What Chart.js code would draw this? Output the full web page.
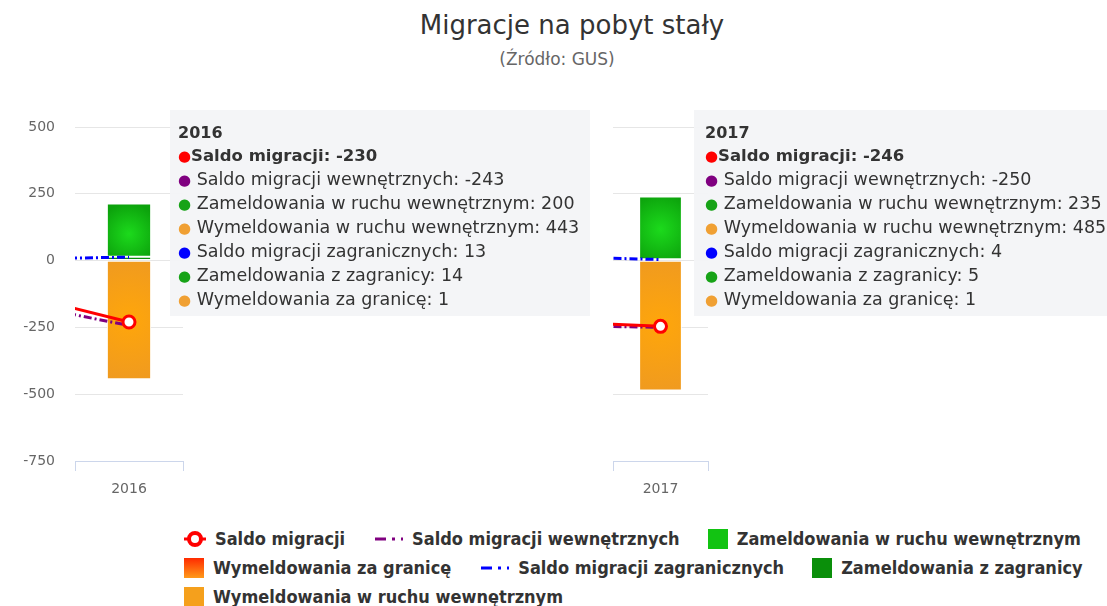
<!DOCTYPE html>
<html lang="pl">
<head>
<meta charset="utf-8">
<title>Migracje na pobyt stały</title>
<script src="https://cdn.jsdelivr.net/npm/chart.js@4.4.1/dist/chart.umd.min.js"></script>
<style>
  html, body { margin: 0; padding: 0; background: #fff; }
  body { width: 1107px; height: 606px; position: relative; overflow: hidden; font-family: 'DejaVu Sans', sans-serif; }
  #tytul { position: absolute; top: 10px; left: 572px; transform: translateX(-50%); font-size: 26px; color: #333; white-space: nowrap; }
  #podtytul { position: absolute; top: 49px; left: 557px; transform: translateX(-50%); font-size: 17px; color: #666; white-space: nowrap; }
  .wykres { position: absolute; top: 110px; }
  #wykres2016 { left: 0; }
  #wykres2017 { left: 590px; }
  .dymek { position: absolute; top: 110px; height: 206px; background: rgba(244, 245, 247, 0.96); color: #333; font-size: 17.5px; line-height: 23px; padding: 11px 0 0 8px; box-sizing: border-box; white-space: nowrap; overflow: hidden; z-index: 5; }
  #dymek2016 { left: 170px; width: 420px; }
  #dymek2017 { left: 694px; width: 413px; padding-left: 11px; }
  .dymek b.rok { font-size: 16px; }
  .dymek b.saldo { font-size: 16.5px; }
  .dymek .kropka { font-size: 15px; }
  #legenda { position: absolute; left: 184px; top: 527px; width: 915px; display: flex; flex-wrap: wrap; row-gap: 6px; column-gap: 28px; font-family: 'DejaVu Sans', sans-serif; font-stretch: condensed; font-weight: bold; font-size: 18px; color: #333; z-index: 6; }
  .poz { display: flex; align-items: center; height: 23px; white-space: nowrap; }
  .poz .znak { display: inline-block; margin-right: 9px; }
</style>
</head>
<body>
<div id="tytul">Migracje na pobyt stały</div>
<div id="podtytul">(Źródło: GUS)</div>

<canvas id="wykres2016" class="wykres" width="200" height="400"></canvas>
<canvas id="wykres2017" class="wykres" width="130" height="400"></canvas>

<div id="dymek2016" class="dymek"></div>
<div id="dymek2017" class="dymek"></div>

<div id="legenda"></div>

<script>
// dane (2015 - szacunek z widocznego fragmentu linii)
const lata = ['2015', '2016', '2017'];
const saldoMigracji = [-128, -230, -246];
const saldoWewnetrzne = [-163, -243, -250];
const zameldowaniaWewn = [null, 200, 235];
const wymeldowaniaWewn = [null, 443, 485];
const saldoZagraniczne = [6, 13, 4];
const zameldowaniaZagr = [null, 14, 5];
const wymeldowaniaZagr = [null, 1, 1];
const osY = [-750, -500, -250, 0, 250, 500];

const kolory = {
    saldo: '#ff0000',
    saldoWewn: '#800080',
    saldoZagr: '#0000ff',
    zamWewn: '#12c312',
    zamZagr: '#0a8f0a',
    wymWewn: '#f5a01c',
    wymZagr: '#ff4d12'
};

const ujemne = arr => arr.map(v => v == null ? null : -v);

// promieniste wypełnienie słupka (jaśniejszy środek)
function gradient(srodek, brzeg) {
    return c => {
        const chart = c.chart;
        if (!chart.chartArea || c.dataIndex == null) return brzeg;
        const v = c.dataset.data[c.dataIndex];
        if (v == null) return brzeg;
        const x = chart.scales.x.getPixelForValue(c.dataIndex);
        const y0 = chart.scales.y.getPixelForValue(0);
        const y1 = chart.scales.y.getPixelForValue(v);
        const cy = (y0 + y1) / 2;
        const r = Math.max(Math.abs(y1 - y0) / 2, 22) * 1.15;
        const g = chart.ctx.createRadialGradient(x, cy, 0, x, cy, r);
        g.addColorStop(0, srodek);
        g.addColorStop(1, brzeg);
        return g;
    };
}

function zbiory() {
    return [
        {
            type: 'line', label: 'Saldo migracji', data: saldoMigracji, stack: 's1', order: 0,
            borderColor: kolory.saldo, borderWidth: 3, tension: 0,
            pointRadius: 6, pointBorderWidth: 3, pointBackgroundColor: '#fff', pointBorderColor: kolory.saldo
        },
        {
            type: 'line', label: 'Saldo migracji wewnętrznych', data: saldoWewnetrzne, stack: 's2', order: 0,
            borderColor: kolory.saldoWewn, borderWidth: 3, borderDash: [8, 3, 2, 3], tension: 0, pointRadius: 0
        },
        {
            type: 'line', label: 'Saldo migracji zagranicznych', data: saldoZagraniczne, stack: 's3', order: 0,
            borderColor: kolory.saldoZagr, borderWidth: 3, borderDash: [8, 3, 2, 3], tension: 0, pointRadius: 0
        },
        { label: 'Zameldowania z zagranicy', data: zameldowaniaZagr, stack: 'slupki', order: 1, backgroundColor: kolory.zamZagr },
        { label: 'Zameldowania w ruchu wewnętrznym', data: zameldowaniaWewn, stack: 'slupki', order: 1, backgroundColor: gradient('#1cda1c', '#0ca20c') },
        { label: 'Wymeldowania za granicę', data: ujemne(wymeldowaniaZagr), stack: 'slupki', order: 1, backgroundColor: kolory.wymZagr },
        { label: 'Wymeldowania w ruchu wewnętrznym', data: ujemne(wymeldowaniaWewn), stack: 'slupki', order: 1, backgroundColor: gradient('#ffa60a', '#ee9922') }
    ];
}

function rysuj(id, rok, opcje) {
    const ctx = document.getElementById(id).getContext('2d');
    const ds = zbiory().map(d => d.type === 'line' ? d : Object.assign(d, {
        borderColor: '#fff', borderWidth: 1, borderSkipped: false,
        barPercentage: opcje.szerokosc, categoryPercentage: 1
    }));
    return new Chart(ctx, {
        type: 'bar',
        data: { labels: lata, datasets: ds },
        options: {
            responsive: false,
            animation: false,
            events: [],
            layout: { padding: opcje.padding },
            plugins: { legend: { display: false }, tooltip: { enabled: false } },
            scales: {
                x: {
                    min: rok, max: rok, stacked: true, offset: true,
                    grid: { display: true, drawOnChartArea: false, drawTicks: true, tickLength: 10, color: '#ccd6eb', offset: true },
                    border: { color: '#ccd6eb' },
                    ticks: { color: '#666', font: { family: 'DejaVu Sans', size: 14 }, padding: 10 },
                    afterFit: s => { s.height = 49; }
                },
                y: {
                    min: osY[0], max: osY[osY.length - 1], stacked: true,
                    afterBuildTicks: s => { s.ticks = osY.map(v => ({ value: v })); },
                    grid: { color: '#e6e6e6', drawTicks: true, tickLength: 17, tickColor: 'rgba(0,0,0,0)' },
                    border: { display: false },
                    ticks: {
                        display: opcje.etykiety, color: '#666', padding: 3,
                        font: { family: 'DejaVu Sans', size: 14 }
                    },
                    afterFit: s => { s.width = opcje.szerOsi; }
                }
            }
        }
    });
}

rysuj('wykres2016', '2016', { padding: { top: 17, right: 17, left: 0, bottom: 0 }, szerokosc: 0.41, etykiety: true, szerOsi: 75 });
rysuj('wykres2017', '2017', { padding: { top: 17, right: 12, left: 23, bottom: 0 }, szerokosc: 0.45, etykiety: false, szerOsi: 0 });

// dymki z wartościami
function dymek(id, rok) {
    const i = lata.indexOf(rok);
    const wiersze = [
        ['Saldo migracji wewnętrznych', kolory.saldoWewn, saldoWewnetrzne[i]],
        ['Zameldowania w ruchu wewnętrznym', '#17a317', zameldowaniaWewn[i]],
        ['Wymeldowania w ruchu wewnętrznym', '#f0a033', wymeldowaniaWewn[i]],
        ['Saldo migracji zagranicznych', kolory.saldoZagr, saldoZagraniczne[i]],
        ['Zameldowania z zagranicy', '#17a317', zameldowaniaZagr[i]],
        ['Wymeldowania za granicę', '#f0a033', wymeldowaniaZagr[i]]
    ];
    let html = '<b class="rok">' + rok + '</b><br>';
    html += '<span class="kropka" style="color:' + kolory.saldo + '">●</span><b class="saldo">Saldo migracji: ' + saldoMigracji[i] + '</b><br>';
    wiersze.forEach(w => {
        html += '<span class="kropka" style="color:' + w[1] + '">●</span> ' + w[0] + ': ' + w[2] + '<br>';
    });
    document.getElementById(id).innerHTML = html;
}
dymek('dymek2016', '2016');
dymek('dymek2017', '2017');

// legenda
const legenda = [
    ['Saldo migracji', 'znacznik', kolory.saldo],
    ['Saldo migracji wewnętrznych', 'kreska', kolory.saldoWewn],
    ['Zameldowania w ruchu wewnętrznym', 'kwadrat', kolory.zamWewn],
    ['Wymeldowania za granicę', 'kwadrat', 'linear-gradient(#ff2a00, #ff9a1a)'],
    ['Saldo migracji zagranicznych', 'kreska', kolory.saldoZagr],
    ['Zameldowania z zagranicy', 'kwadrat', kolory.zamZagr],
    ['Wymeldowania w ruchu wewnętrznym', 'kwadrat', kolory.wymWewn]
];
const el = document.getElementById('legenda');
legenda.forEach(([tekst, rodzaj, kolor]) => {
    let znak;
    if (rodzaj === 'kwadrat') {
        znak = '<span class="znak" style="width:20px;height:20px;background:' + kolor + '"></span>';
    } else if (rodzaj === 'kreska') {
        znak = '<svg class="znak" width="30" height="10"><line x1="2" y1="5" x2="30" y2="5" stroke="' + kolor +
            '" stroke-width="3" stroke-dasharray="11,6,3,6"/></svg>';
    } else {
        znak = '<svg class="znak" width="22" height="18"><line x1="0" y1="9" x2="22" y2="9" stroke="' + kolor +
            '" stroke-width="3"/><circle cx="11" cy="9" r="6" fill="#fff" stroke="' + kolor + '" stroke-width="4"/></svg>';
    }
    el.insertAdjacentHTML('beforeend', '<span class="poz">' + znak + tekst + '</span>');
});
</script>
</body>
</html>
